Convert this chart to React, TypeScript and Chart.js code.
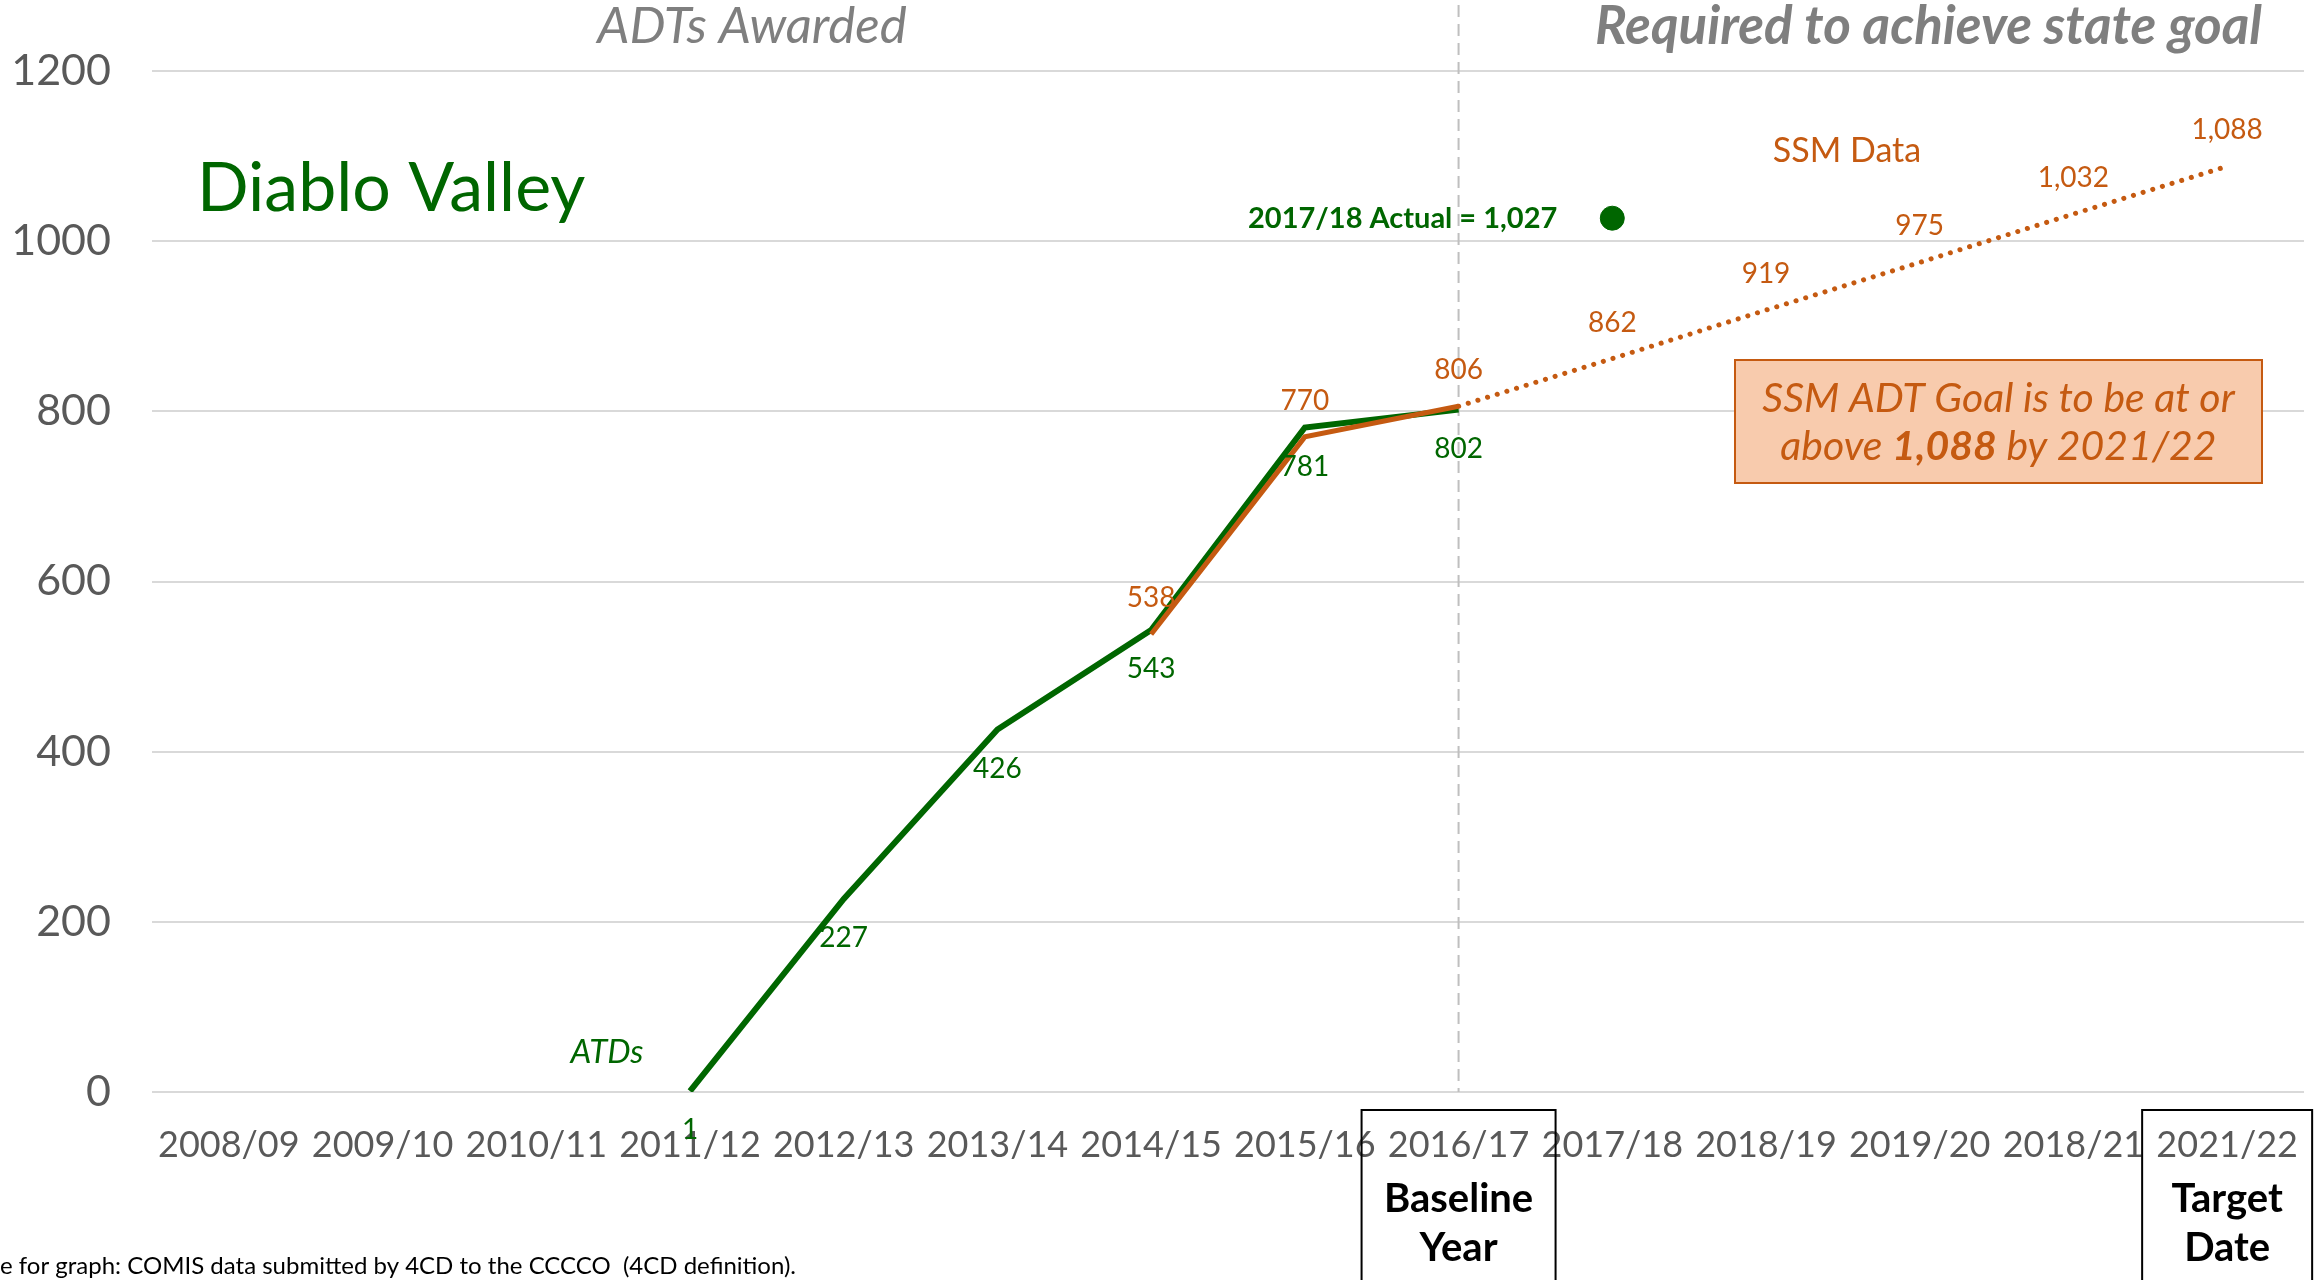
import React, { useEffect, useRef } from "react";
import { Chart, registerables } from "chart.js";
Chart.register(...registerables);

const categories = [
  "2008/09", "2009/10", "2010/11", "2011/12", "2012/13", "2013/14", "2014/15",
  "2015/16", "2016/17", "2017/18", "2018/19", "2019/20", "2018/21", "2021/22",
];
const atdValues = [null, null, null, 1, 227, 426, 543, 781, 802, null, null, null, null, null];
const ssmActual = [null, null, null, null, null, null, 538, 770, 806, null, null, null, null, null];
const ssmGoal = [null, null, null, null, null, null, null, null, 806, 862, 919, 975, 1032, 1088];
const actual1718 = [null, null, null, null, null, null, null, null, null, 1027, null, null, null, null];
const yTickValues = [0, 200, 400, 600, 800, 1000, 1200];
const baselineIndex = 8;
const targetIndex = 13;
const actualIndex = 9;

const GREEN = "#006600";
const ORANGE = "#C55A11";
const GRAY = "#7F7F7F";
const AXIS = "#595959";
const FONT = "Lato, 'Open Sans', sans-serif";

const fmt = (v: number) => v.toLocaleString("en-US");

const annotations = {
  id: "annotations",
  beforeDatasetsDraw(chart: any) {
    const { ctx, chartArea } = chart;
    const xs = chart.scales.x;
    const bx = xs.getPixelForValue(baselineIndex);
    ctx.save();
    ctx.strokeStyle = "#BFBFBF";
    ctx.lineWidth = 2;
    ctx.setLineDash([12, 7]);
    ctx.beginPath();
    ctx.moveTo(bx, 5);
    ctx.lineTo(bx, chartArea.bottom);
    ctx.stroke();
    ctx.restore();
  },
  afterDatasetsDraw(chart: any) {
    const { ctx } = chart;
    const xs = chart.scales.x;
    const ys = chart.scales.y;
    ctx.save();
    ctx.font = `28px ${FONT}`;
    ctx.textAlign = "center";
    ctx.textBaseline = "middle";
    ctx.fillStyle = GREEN;
    atdValues.forEach((v, i) => {
      if (v == null) return;
      ctx.fillText(fmt(v), xs.getPixelForValue(i), ys.getPixelForValue(v) + 39);
    });
    ctx.fillStyle = ORANGE;
    ssmActual.forEach((v, i) => {
      if (v == null) return;
      ctx.fillText(fmt(v), xs.getPixelForValue(i), ys.getPixelForValue(v) - 36);
    });
    ssmGoal.forEach((v, i) => {
      if (v == null || ssmActual[i] != null) return;
      ctx.fillText(fmt(v), xs.getPixelForValue(i), ys.getPixelForValue(v) - 36);
    });

    const av = actual1718[actualIndex] as number;
    ctx.font = `bold 29px ${FONT}`;
    ctx.fillStyle = GREEN;
    ctx.textAlign = "right";
    ctx.fillText(`2017/18 Actual = ${fmt(av)}`, xs.getPixelForValue(actualIndex) - 55, ys.getPixelForValue(av));
    ctx.restore();
  },
  afterDraw(chart: any) {
    const { ctx } = chart;
    const xs = chart.scales.x;
    ctx.save();
    ctx.textBaseline = "middle";

    ctx.fillStyle = GRAY;
    ctx.font = `italic 51px ${FONT}`;
    ctx.textAlign = "center";
    ctx.fillText("ADTs Awarded", 752, 27);
    ctx.font = `italic bold 53px ${FONT}`;
    ctx.textAlign = "right";
    ctx.fillText("Required to achieve state goal", 2262, 27);

    ctx.fillStyle = GREEN;
    ctx.font = `68px ${FONT}`;
    ctx.textAlign = "left";
    ctx.fillText("Diablo Valley", 197, 189);

    ctx.font = `italic 33px ${FONT}`;
    ctx.textAlign = "center";
    ctx.fillText("ATDs", 607, 1052);
    ctx.fillStyle = ORANGE;
    ctx.font = `34px ${FONT}`;
    ctx.fillText("SSM Data", 1847, 151);

    const gx = 1735, gy = 360, gw = 527, gh = 123;
    ctx.fillStyle = "#F8CBAD";
    ctx.fillRect(gx, gy, gw, gh);
    ctx.strokeStyle = ORANGE;
    ctx.lineWidth = 2;
    ctx.strokeRect(gx, gy, gw, gh);
    ctx.fillStyle = ORANGE;
    const fs = 41;
    ctx.font = `italic ${fs}px ${FONT}`;
    ctx.textAlign = "center";
    const cx = gx + gw / 2;
    ctx.fillText("SSM ADT Goal is to be at or", cx, 399);
    const p1 = "above ", p2 = "1,088", p3 = " by 2021/22";
    ctx.font = `italic ${fs}px ${FONT}`;
    const w1 = ctx.measureText(p1).width;
    const w3 = ctx.measureText(p3).width;
    ctx.font = `italic bold ${fs}px ${FONT}`;
    const w2 = ctx.measureText(p2).width;
    let sx = cx - (w1 + w2 + w3) / 2;
    ctx.textAlign = "left";
    ctx.font = `italic ${fs}px ${FONT}`;
    ctx.fillText(p1, sx, 447);
    sx += w1;
    ctx.font = `italic bold ${fs}px ${FONT}`;
    ctx.fillText(p2, sx, 447);
    sx += w2;
    ctx.font = `italic ${fs}px ${FONT}`;
    ctx.fillText(p3, sx, 447);

    const drawBox = (idx: number, w: number, l1: string, l2: string) => {
      const px = xs.getPixelForValue(idx);
      ctx.strokeStyle = "#000000";
      ctx.lineWidth = 2;
      ctx.beginPath();
      ctx.moveTo(px - w / 2, 1290);
      ctx.lineTo(px - w / 2, 1110);
      ctx.lineTo(px + w / 2, 1110);
      ctx.lineTo(px + w / 2, 1290);
      ctx.stroke();
      ctx.fillStyle = "#000000";
      ctx.font = `bold 40px ${FONT}`;
      ctx.textAlign = "center";
      ctx.fillText(l1, px, 1199);
      ctx.fillText(l2, px, 1248);
    };
    drawBox(baselineIndex, 194, "Baseline", "Year");
    drawBox(targetIndex, 170, "Target", "Date");

    ctx.fillStyle = "#000000";
    ctx.font = `24px ${FONT}`;
    ctx.textAlign = "left";
    ctx.fillText("e for graph: COMIS data submitted by 4CD to the CCCCO  (4CD definition).", 0, 1266);
    ctx.restore();
  },
};

export default function App() {
  const ref = useRef<HTMLCanvasElement | null>(null);
  useEffect(() => {
    document.body.style.margin = "0";
    document.body.style.overflow = "hidden";
    if (!ref.current) return;
    const chart = new Chart(ref.current, {
      type: "line",
      data: {
        labels: categories,
        datasets: [
          {
            label: "ATDs",
            data: atdValues,
            borderColor: GREEN,
            backgroundColor: GREEN,
            borderWidth: 6,
            pointRadius: 0,
            spanGaps: false,
            order: 2,
          },
          {
            label: "SSM Data",
            data: ssmActual,
            borderColor: ORANGE,
            backgroundColor: ORANGE,
            borderWidth: 5,
            pointRadius: 0,
            order: 1,
          },
          {
            label: "SSM Goal",
            data: ssmGoal,
            borderColor: ORANGE,
            backgroundColor: ORANGE,
            borderWidth: 5,
            borderDash: [0.1, 10],
            borderCapStyle: "round",
            pointRadius: 0,
            order: 1,
          },
          {
            label: "2017/18 Actual",
            data: actual1718,
            borderColor: GREEN,
            backgroundColor: GREEN,
            showLine: false,
            pointRadius: 12,
            pointHoverRadius: 12,
            order: 0,
          },
        ],
      },
      options: {
        responsive: false,
        animation: false,
        events: [],
        layout: { padding: { top: 71, right: 17, left: 0, bottom: 0 } },
        plugins: { legend: { display: false }, tooltip: { enabled: false }, title: { display: false } },
        scales: {
          x: {
            type: "category",
            offset: true,
            grid: { display: false, drawTicks: false },
            border: { display: false },
            ticks: {
              color: AXIS,
              font: { family: FONT, size: 36 },
              padding: 32,
              maxRotation: 0,
              minRotation: 0,
              autoSkip: false,
            },
            afterFit: (s: any) => {
              s.height = 188;
              s.paddingLeft = 0;
              s.paddingRight = 0;
            },
          },
          y: {
            min: 0,
            max: 1200,
            afterBuildTicks: (s: any) => { s.ticks = yTickValues.map((v) => ({ value: v })); },
            grid: { color: "#D9D9D9", lineWidth: 2, drawTicks: false },
            border: { display: false },
            ticks: {
              color: AXIS,
              font: { family: FONT, size: 43 },
              padding: 41,
              callback: (v: any) => String(v),
            },
            afterFit: (s: any) => { s.width = 152; },
          },
        },
      },
      plugins: [annotations],
    });
    return () => chart.destroy();
  }, []);
  return (
    <div style={{ width: 2321, height: 1280, background: "#ffffff" }}>
      <canvas ref={ref} width={2321} height={1280} style={{ display: "block" }} />
    </div>
  );
}
